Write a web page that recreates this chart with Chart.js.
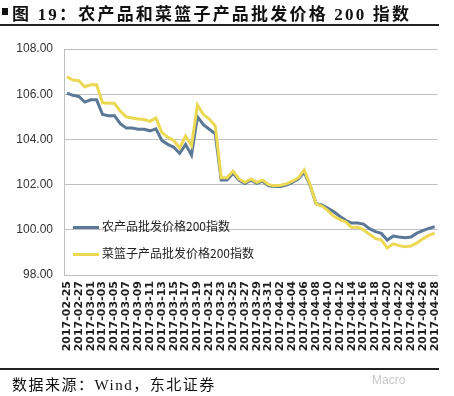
<!DOCTYPE html>
<html>
<head>
<meta charset="utf-8">
<script src="https://cdn.jsdelivr.net/npm/chart.js@4.4.0/dist/chart.umd.min.js"></script>
<style>
  html, body { margin: 0; padding: 0; background: #fff; }
  #wrap { position: relative; width: 454px; height: 396px; overflow: hidden; }
  #chart { position: absolute; left: 0; top: 0; }
  .sq { position: absolute; left: 2px; top: 8px; width: 6px; height: 7px; background: #111; }
  .title { position: absolute; left: 12px; top: 0px; font: bold 17px "Liberation Serif", "Noto Sans CJK SC"; letter-spacing: 2.2px; color: #111; white-space: nowrap; }
  .rule { position: absolute; left: 0; width: 439px; height: 2px; background: #222; }
  .source { position: absolute; left: 12px; top: 373px; font: 15px "Liberation Serif", "Noto Sans CJK SC"; letter-spacing: 1.5px; color: #111; white-space: nowrap; }
  .mark { position: absolute; left: 372px; top: 373px; font: 12px "Liberation Sans"; color: #c8c8c8; }
  #legend { position: absolute; left: 73px; top: 216px; font: 12px "Noto Sans CJK SC"; color: #222; }
  #legend div { height: 27px; line-height: 20px; white-space: nowrap; }
  #legend span.sw { display: inline-block; width: 26px; height: 3px; vertical-align: middle; margin-right: 3px; }
</style>
</head>
<body>
<div id="wrap">
  <canvas id="chart" width="454" height="396"></canvas>
  <div class="sq"></div>
  <div class="title">图 19：农产品和菜篮子产品批发价格 200 指数</div>
  <div class="rule" style="top:24px"></div>
  <div id="legend"></div>
  <div class="rule" style="top:368px"></div>
  <div class="source">数据来源：Wind，东北证券</div>
  <div class="mark">Macro</div>
</div>
<script>
const dates = [
  '2017-02-25', '2017-02-26', '2017-02-27', '2017-02-28',
  '2017-03-01', '2017-03-02', '2017-03-03', '2017-03-04', '2017-03-05', '2017-03-06',
  '2017-03-07', '2017-03-08', '2017-03-09', '2017-03-10', '2017-03-11', '2017-03-12',
  '2017-03-13', '2017-03-14', '2017-03-15', '2017-03-16', '2017-03-17', '2017-03-18',
  '2017-03-19', '2017-03-20', '2017-03-21', '2017-03-22', '2017-03-23', '2017-03-24',
  '2017-03-25', '2017-03-26', '2017-03-27', '2017-03-28', '2017-03-29', '2017-03-30',
  '2017-03-31', '2017-04-01', '2017-04-02', '2017-04-03', '2017-04-04', '2017-04-05',
  '2017-04-06', '2017-04-07', '2017-04-08', '2017-04-09', '2017-04-10', '2017-04-11',
  '2017-04-12', '2017-04-13', '2017-04-14', '2017-04-15', '2017-04-16', '2017-04-17',
  '2017-04-18', '2017-04-19', '2017-04-20', '2017-04-21', '2017-04-22', '2017-04-23',
  '2017-04-24', '2017-04-25', '2017-04-26', '2017-04-27', '2017-04-28'
];

const seriesNames = ['农产品批发价格200指数', '菜篮子产品批发价格200指数'];

const farmIndex = [
  106.05, 105.95, 105.9, 105.65, 105.75, 105.75, 105.1, 105.05, 105.05, 104.7,
  104.5, 104.5, 104.45, 104.45, 104.38, 104.47, 103.95, 103.78, 103.65, 103.38,
  103.78, 103.3, 105.0, 104.65, 104.45, 104.25, 102.2, 102.2, 102.5, 102.2,
  102.05, 102.2, 102.05, 102.15, 101.95, 101.92, 101.92, 101.98, 102.1, 102.25,
  102.55, 101.95, 101.15, 101.1, 100.95, 100.8, 100.6, 100.42, 100.3, 100.3,
  100.25, 100.05, 99.92, 99.84, 99.55, 99.72, 99.68, 99.65, 99.68, 99.85,
  99.96, 100.06, 100.14
];

const basketIndex = [
  106.77, 106.63, 106.6, 106.33, 106.42, 106.42, 105.62, 105.6, 105.6, 105.25,
  105.0, 104.95, 104.9, 104.88, 104.8, 104.95, 104.3, 104.1, 103.95, 103.62,
  104.15, 103.72, 105.52, 105.1, 104.9, 104.6, 102.3, 102.3, 102.6, 102.25,
  102.1, 102.25, 102.1, 102.2, 102.0, 101.95, 101.97, 102.03, 102.15, 102.3,
  102.65, 102.0, 101.15, 101.05, 100.85, 100.6, 100.45, 100.35, 100.1, 100.12,
  100.0, 99.8, 99.62, 99.55, 99.2, 99.38, 99.3, 99.25, 99.28, 99.42,
  99.6, 99.75, 99.85
];

const colors = ['#5b7897', '#ebd954'];

// legend drawn as html inside the plot
const legend = document.getElementById('legend');
seriesNames.forEach((name, i) => {
  const row = document.createElement('div');
  row.innerHTML = `<span class="sw" style="background:${colors[i]}"></span>${name}`;
  legend.appendChild(row);
});

new Chart(document.getElementById('chart'), {
  type: 'line',
  data: {
    labels: dates,
    datasets: [
      { label: seriesNames[0], data: farmIndex, borderColor: colors[0], borderWidth: 3, pointRadius: 0, order: 1 },
      { label: seriesNames[1], data: basketIndex, borderColor: colors[1], borderWidth: 3, pointRadius: 0, order: 0 }
    ]
  },
  options: {
    responsive: false,
    animation: false,
    layout: { padding: { left: 0, top: 49, right: 15, bottom: 0 } },
    plugins: { legend: { display: false }, tooltip: { enabled: false } },
    scales: {
      x: {
        offset: true,
        grid: { display: false, drawTicks: false },
        border: { display: true, color: '#bfbfbf' },
        ticks: {
          autoSkip: false,
          minRotation: 90,
          maxRotation: 90,
          padding: 6,
          color: '#222',
          font: { family: 'DejaVu Sans', size: 11, weight: 'bold' },
          callback: (v, i) => i % 2 === 0 ? dates[i] : ''
        },
        afterFit: s => { s.height = 121; }
      },
      y: {
        min: 98,
        max: 108,
        ticks: {
          stepSize: 2,
          padding: 11,
          color: '#333',
          font: { family: 'Liberation Sans', size: 12 },
          callback: v => v.toFixed(2)
        },
        grid: { color: '#bfbfbf', drawTicks: false },
        border: { display: true, color: '#bfbfbf' },
        afterFit: s => { s.width = 64; }
      }
    }
  }
});
</script>
</body>
</html>
